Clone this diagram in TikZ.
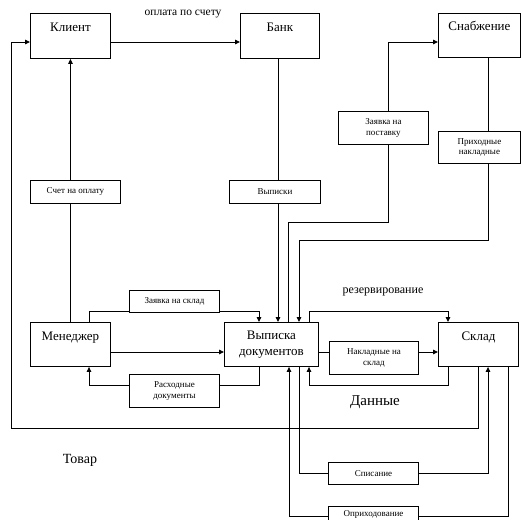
\documentclass[tikz,border=0pt]{standalone}
\usepackage{fontspec}
\setmainfont{Liberation Serif}
\usetikzlibrary{arrows.meta}
\begin{document}
\begin{tikzpicture}[x=1pt,y=-1pt,>={Triangle[length=5pt,width=4.5pt]},
  line width=0.9pt,
  unit/.style={draw,fill=white,inner sep=0pt,anchor=north west,
    font=\fontsize{13}{16}\selectfont,text height=18pt,text depth=#1},
  doc/.style={draw,fill=white,inner sep=0pt,anchor=north west,align=center,
    font=\fontsize{9}{10.5}\selectfont}]
  \clip (0,0) rectangle (521,519);
  \node[unit=27pt,minimum width=80pt] (klient) at (30,13) {Клиент};
  \node[unit=27pt,minimum width=79pt] (bank) at (240,13) {Банк};
  \node[unit=27pt,minimum width=82pt,text height=17pt] (snab) at (438,13) {Снабжение};
  \node[unit=26pt,minimum width=80pt] (menedzher) at (30,322) {Менеджер};
  \node[unit=26pt,minimum width=80pt] (sklad) at (438,322) {Склад};
  \node[draw,fill=white,inner sep=0pt,anchor=north west,align=center,
    minimum width=94pt,minimum height=44pt,
    font=\fontsize{13}{16}\selectfont] (vypiska) at (224,322) {Выписка\\документов};
  \node[doc,minimum width=90pt,minimum height=23pt] (schet) at (30,180) {Счет на оплату};
  \node[doc,minimum width=91pt,minimum height=23pt] (vypiski) at (229,180) {Выписки};
  \node[doc,minimum width=90pt,minimum height=33pt] (zpost) at (338,111) {Заявка на\\поставку};
  \node[doc,minimum width=82pt,minimum height=32pt] (prihod) at (438,131) {Приходные\\накладные};
  \node[doc,minimum width=90pt,minimum height=22pt] (zsklad) at (129,290) {Заявка на склад};
  \node[doc,minimum width=90pt,minimum height=33pt] (rashod) at (129,374) {Расходные\\документы};
  \node[doc,minimum width=89pt,minimum height=33pt] (nakl) at (329,341) {Накладные на\\склад};
  \node[doc,minimum width=90pt,minimum height=22pt] (spis) at (328,462) {Списание};
  \node[doc,minimum width=90pt,text height=10pt,text depth=8pt] (oprih) at (328,506) {Оприходование};
  \node[font=\fontsize{11.5}{13}\selectfont] (oplata) at (183,14) {оплата по счету};
  \node[font=\fontsize{12}{14}\selectfont] (rezerv) at (383,292) {резервирование};
  \node[font=\fontsize{15}{17}\selectfont] (dannye) at (375,402) {Данные};
  \node[font=\fontsize{14}{16}\selectfont] (tovar) at (80,460) {Товар};
  \coordinate (top) at (11,42);
  \coordinate (bot) at (11,428);
  \coordinate (bx) at (278,0);
  \coordinate (z1) at (288,222);
  \coordinate (z2) at (388,42);
  \coordinate (p1) at (488,240);
  \coordinate (p2) at (299,240);
  \coordinate (m1) at (89,311);
  \coordinate (m2) at (259,311);
  \coordinate (mid) at (0,352);
  \coordinate (d1) at (259,385);
  \coordinate (d2) at (89,385);
  \coordinate (s1) at (309,311);
  \coordinate (s2) at (448,311);
  \coordinate (g1) at (448,385);
  \coordinate (g2) at (309,385);
  \coordinate (w1) at (299,473);
  \coordinate (w2) at (488,473);
  \coordinate (o1) at (508,516);
  \coordinate (o2) at (289,516);
  \draw[->] (klient.east |- top) -- (bank.west |- top);
  \draw[->] (sklad.south) |- (bot) |- (klient.west |- top);
  \draw (menedzher.north) -- (schet.south -| menedzher.north);
  \draw[->] (schet.north -| menedzher.north) -- (klient.south);
  \draw (bank.south -| bx) -- (vypiski.north -| bx);
  \draw[->] (vypiski.south -| bx) -- (vypiska.north -| bx);
  \draw (vypiska.north -| z1) -- (z1) -- (z2 |- z1) -- (zpost.south -| z2);
  \draw[->] (zpost.north -| z2) -- (z2) -- (snab.west |- z2);
  \draw (snab.south -| p1) -- (prihod.north -| p1);
  \draw[->] (prihod.south -| p1) -- (p1) -- (p2) -- (vypiska.north -| p2);
  \draw (menedzher.north -| m1) -- (m1) -- (zsklad.west |- m1);
  \draw[->] (zsklad.east |- m1) -- (m2) -- (vypiska.north -| m2);
  \draw[->] (menedzher.east |- mid) -- (vypiska.west |- mid);
  \draw (vypiska.south -| d1) -- (d1) -- (rashod.east |- d1);
  \draw[->] (rashod.west |- d1) -- (d2) -- (menedzher.south -| d2);
  \draw[->] (vypiska.north -| s1) -- (s1) -- (s2) -- (sklad.north -| s2);
  \draw (vypiska.east |- mid) -- (nakl.west |- mid);
  \draw[->] (nakl.east |- mid) -- (sklad.west |- mid);
  \draw[->] (sklad.south -| g1) -- (g1) -- (g2) -- (vypiska.south -| g2);
  \draw (vypiska.south -| w1) -- (w1) -- (spis.west |- w1);
  \draw[->] (spis.east |- w1) -- (w2) -- (sklad.south -| w2);
  \draw (sklad.south -| o1) -- (o1) -- (oprih.east |- o1);
  \draw[->] (oprih.west |- o1) -- (o2) -- (vypiska.south -| o2);
\end{tikzpicture}
\end{document}
